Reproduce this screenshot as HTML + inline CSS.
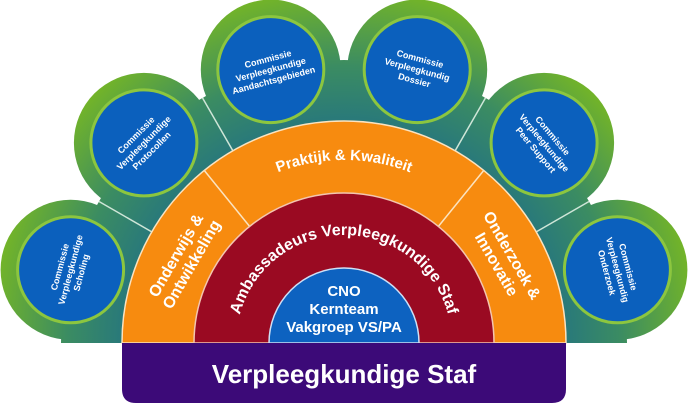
<!DOCTYPE html>
<html><head><meta charset="utf-8"><style>
html,body{margin:0;padding:0;background:#fff;width:688px;height:406px;overflow:hidden}
svg{display:block}
text{font-family:"Liberation Sans",sans-serif;fill:#fff;font-weight:bold}
</style></head><body>
<svg width="688" height="406" viewBox="0 0 688 406" xmlns="http://www.w3.org/2000/svg">
<defs>
<radialGradient id="g" gradientUnits="userSpaceOnUse" cx="344" cy="343" r="355">
<stop offset="0.6" stop-color="#26767e"/>
<stop offset="0.78" stop-color="#3b8c62"/>
<stop offset="1" stop-color="#74b527"/>
</radialGradient>
<path id="arcP" d="M 214.6 213.6 A 183 183 0 0 1 473.4 213.6"/>
<path id="arcA" d="M 236 343 A 108 108 0 0 1 452 343"/>
</defs>
<g fill="url(#g)">
<path d="M344 343 L61 343 A283 283 0 0 1 627 343 Z"/>
<circle cx="70.6" cy="269.8" r="70"/>
<circle cx="143.9" cy="142.9" r="70"/>
<circle cx="270.8" cy="69.6" r="70"/>
<circle cx="417.2" cy="69.6" r="70"/>
<circle cx="544.1" cy="142.9" r="70"/>
<circle cx="617.4" cy="269.8" r="70"/>
</g>
<g stroke="#cfe6d8" stroke-width="1.5">
<line x1="152" y1="232" x2="99" y2="201.5"/>
<line x1="233" y1="151" x2="202.5" y2="97.9"/>
<line x1="455" y1="151" x2="485.5" y2="97.9"/>
<line x1="536" y1="232" x2="589" y2="201.5"/>
</g>
<g fill="#0b60bd" stroke="#8cc63f" stroke-width="3">
<circle cx="70.6" cy="269.8" r="53"/>
<circle cx="143.9" cy="142.9" r="53"/>
<circle cx="270.8" cy="69.6" r="53"/>
<circle cx="417.2" cy="69.6" r="53"/>
<circle cx="544.1" cy="142.9" r="53"/>
<circle cx="617.4" cy="269.8" r="53"/>
</g>
<g font-size="9" text-anchor="middle">
<text transform="translate(70.6,269.8) rotate(-75)"><tspan x="0" y="-8">Commissie</tspan><tspan x="0" y="3">Verpleegkundige</tspan><tspan x="0" y="14">Scholing</tspan></text>
<text transform="translate(143.9,142.9) rotate(-45)"><tspan x="0" y="-8">Commissie</tspan><tspan x="0" y="3">Verpleegkundige</tspan><tspan x="0" y="14">Protocollen</tspan></text>
<text transform="translate(270.8,69.6) rotate(-15)"><tspan x="0" y="-8">Commissie</tspan><tspan x="0" y="3">Verpleegkundige</tspan><tspan x="0" y="14">Aandachtsgebieden</tspan></text>
<text transform="translate(417.2,69.6) rotate(15)"><tspan x="0" y="-8">Commissie</tspan><tspan x="0" y="3">Verpleegkundig</tspan><tspan x="0" y="14">Dossier</tspan></text>
<text transform="translate(544.1,142.9) rotate(50)"><tspan x="0" y="-8">Commissie</tspan><tspan x="0" y="3">Verpleegkundige</tspan><tspan x="0" y="14">Peer Support</tspan></text>
<text transform="translate(617.4,269.8) rotate(75)"><tspan x="0" y="-8">Commissie</tspan><tspan x="0" y="3">Verpleegkundig</tspan><tspan x="0" y="14">Onderzoek</tspan></text>
</g>
<path d="M122 343 A222 222 0 0 1 566 343 Z" fill="#f78b0f" stroke="#fbe3c0" stroke-width="1.5"/>
<g stroke="#fbe3c0" stroke-width="1.5">
<line x1="204.3" y1="170.5" x2="249.6" y2="226.4"/>
<line x1="483.7" y1="170.5" x2="438.4" y2="226.4"/>
</g>
<path d="M194 343 A150 150 0 0 1 494 343 Z" fill="#9a0a22" stroke="#f3c6b0" stroke-width="1.5"/>
<path d="M269 343 A75 75 0 0 1 419 343 Z" fill="#0d62c0" stroke="#cfe0f5" stroke-width="1.5"/>
<text font-size="15" style="font-weight:600"><textPath href="#arcP" startOffset="50%" text-anchor="middle">Praktijk &amp; Kwaliteit</textPath></text>
<text font-size="16" style="font-weight:600"><textPath href="#arcA" startOffset="50%" text-anchor="middle">Ambassadeurs Verpleegkundige Staf</textPath></text>
<g font-size="16" text-anchor="middle" style="font-weight:600">
<text transform="translate(184,260) rotate(-60)"><tspan x="0" y="-4">Onderwijs &amp;</tspan><tspan x="0" y="14">Ontwikkeling</tspan></text>
<text transform="translate(504,260) rotate(60)"><tspan x="0" y="-4">Onderzoek &amp;</tspan><tspan x="0" y="14">Innovatie</tspan></text>
</g>
<g font-size="15" text-anchor="middle">
<text x="344" y="296">CNO</text>
<text x="344" y="314">Kernteam</text>
<text x="344" y="332">Vakgroep VS/PA</text>
</g>
<path d="M122 343 H566 V389 Q566 403 552 403 H136 Q122 403 122 389 Z" fill="#3c0a78"/>
<text x="344" y="383" font-size="26" text-anchor="middle">Verpleegkundige Staf</text>
</svg>
</body></html>
